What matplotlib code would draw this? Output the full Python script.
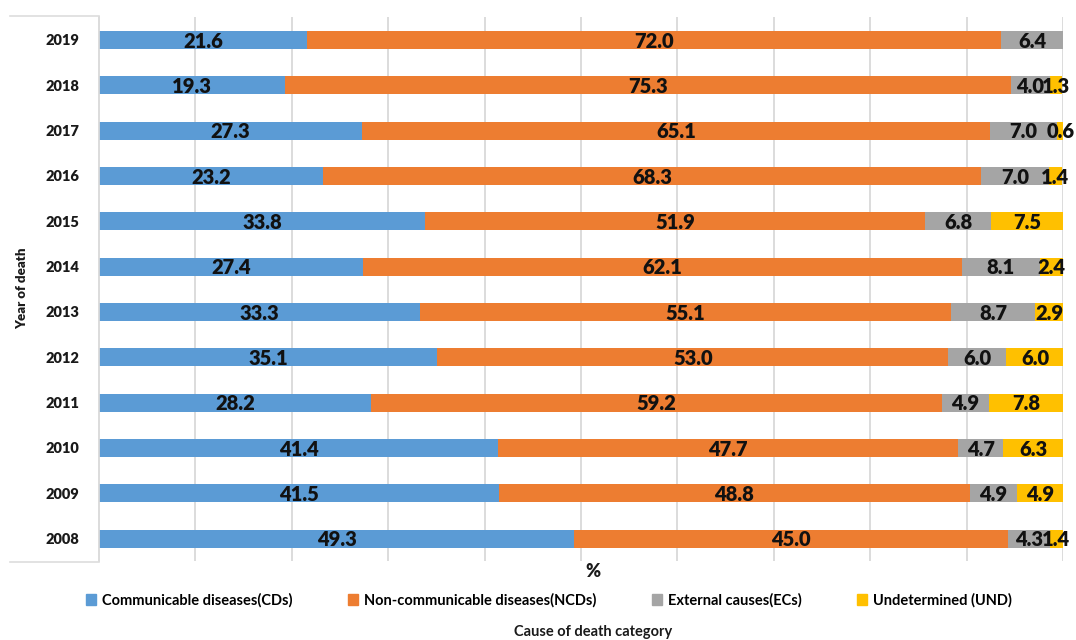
import matplotlib
matplotlib.use("Agg")
import matplotlib.pyplot as plt
import numpy as np
from matplotlib.lines import Line2D
from matplotlib.patches import Patch

plt.rcParams['font.family'] = ['Lato', 'DejaVu Sans']

years = ['2008', '2009', '2010', '2011', '2012', '2013',
         '2014', '2015', '2016', '2017', '2018', '2019']
cds = [49.3, 41.5, 41.4, 28.2, 35.1, 33.3, 27.4, 33.8, 23.2, 27.3, 19.3, 21.6]
ncds = [45.0, 48.8, 47.7, 59.2, 53.0, 55.1, 62.1, 51.9, 68.3, 65.1, 75.3, 72.0]
ecs = [4.3, 4.9, 4.7, 4.9, 6.0, 8.7, 8.1, 6.8, 7.0, 7.0, 4.0, 6.4]
und = [1.4, 4.9, 6.3, 7.8, 6.0, 2.9, 2.4, 7.5, 1.4, 0.6, 1.3, 0.0]

series = [
    ('Communicable diseases(CDs)', cds, '#5B9BD5'),
    ('Non-communicable diseases(NCDs)', ncds, '#ED7D31'),
    ('External causes(ECs)', ecs, '#A5A5A5'),
    ('Undetermined (UND)', und, '#FFC000'),
]

fig = plt.figure(figsize=(10.76, 6.4), dpi=100)
ax = fig.add_axes([0.092, 0.123, 0.896, 0.85])

y = np.arange(len(years))
left = np.zeros(len(years))
for name, vals, col in series:
    vals = np.array(vals)
    ax.barh(y, vals, left=left, height=0.4, color=col, label=name, zorder=2)
    for yi, l, v in zip(y, left, vals):
        if v > 0:
            ax.text(l + v / 2, yi - 0.03, f'{v:.1f}', ha='center', va='center',
                    fontsize=14.5, fontweight='heavy', color='#111111', zorder=3)
    left += vals

ax.set_xlim(0, 100)
ax.set_ylim(-0.5, len(years) - 0.5)
ax.set_xticks(np.arange(10, 101, 10))
ax.set_xticklabels([])
ax.tick_params(axis='x', length=0)
ax.tick_params(axis='y', length=0, pad=14)
ax.set_yticks(y)
ax.set_yticklabels(years, fontsize=10.5, fontweight='heavy', color='#1a1a1a')
ax.grid(axis='x', color='#d9d9d9', linewidth=1.3, zorder=0)
for s in ['top', 'right', 'bottom']:
    ax.spines[s].set_visible(False)
ax.spines['left'].set_color('#d9d9d9')
ax.spines['left'].set_linewidth(1.3)

# thin box behind the year labels
fig.add_artist(Line2D([0.009, 0.092], [0.975, 0.975], color='#dddddd', lw=1.2))
fig.add_artist(Line2D([0.009, 0.092], [0.122, 0.122], color='#dddddd', lw=1.2))

fig.text(0.551, 0.107, '%', ha='center', va='center', fontsize=13, fontweight='heavy', color='#1a1a1a')
fig.text(0.021, 0.55, 'Year of death', rotation=90, ha='center', va='center',
         fontsize=9.5, fontweight='heavy', color='#1a1a1a')

handles = [Patch(color=c) for _, _, c in series]
labels = [n for n, _, _ in series]
fig.legend(handles, labels, loc='center', bbox_to_anchor=(0.51, 0.062), ncol=4,
           frameon=False, handlelength=0.7, handleheight=0.7,
           handletextpad=0.4, columnspacing=3.8,
           prop={'size': 10.5, 'weight': 'bold'})
fig.text(0.551, 0.012, 'Cause of death category', ha='center', va='center',
         fontsize=10.5, fontweight='bold', color='#1a1a1a')

fig.savefig('out.png', dpi=100)
